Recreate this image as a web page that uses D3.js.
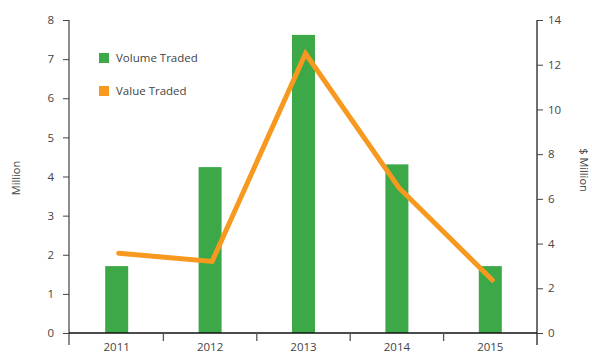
<!DOCTYPE html>
<html><head><meta charset="utf-8">
<script src="https://cdn.jsdelivr.net/npm/d3@7"></script>
<style>
body{margin:0;background:#fff;}
text{font-family:"Open Sans",sans-serif;font-size:11px;fill:#444;}
</style></head><body>
<svg id="c" width="592" height="353"></svg>
<script>
const years = ["2011","2012","2013","2014","2015"];
const volume = [1.71, 4.24, 7.62, 4.31, 1.71];
const value = [3.57, 3.2, 12.5, 6.5, 2.37];
const leftTicks = [0,1,2,3,4,5,6,7,8];
const rightTicks = [0,2,4,6,8,10,12,14];
const seriesNames = ["Volume Traded","Value Traded"];
const colors = ["#3ca848","#f7991f"];

const svg = d3.select("#c");
const L = 70, R = 537, T = 20, B = 333;
const x = d3.scaleBand().domain(years).range([L, R]);
const yL = d3.scaleLinear().domain([0, 8]).range([B, T]);
const yR = d3.scaleLinear().domain([0, 14]).range([B, T]);

// bars
svg.selectAll("rect.bar").data(years).enter().append("rect")
  .attr("x", d => x(d) + x.bandwidth()/2 - 11.5)
  .attr("width", 23)
  .attr("y", (d,i) => yL(volume[i]))
  .attr("height", (d,i) => B - yL(volume[i]))
  .attr("fill", colors[0]);

// line
const line = d3.line().x((d,i) => x(years[i]) + x.bandwidth()/2 + 2).y(d => yR(d));
svg.append("path").datum(value).attr("d", line)
  .attr("fill","none").attr("stroke", colors[1]).attr("stroke-width", 5)
  .attr("stroke-linecap","round").attr("stroke-linejoin","miter");

// left axis
const gl = svg.append("g").attr("transform", `translate(${L-1},0)`)
  .call(d3.axisLeft(yL).tickValues(leftTicks).tickSize(6).tickPadding(9));
gl.select(".domain").attr("d", `M0,${T}V345`).attr("stroke","#666").attr("stroke-width",1.5);
gl.selectAll(".tick line").attr("stroke","#444");
gl.selectAll(".tick text").style("font-size","11.5px");

// right axis
const gr = svg.append("g").attr("transform", `translate(${R},0)`)
  .call(d3.axisRight(yR).tickValues(rightTicks).tickSize(6).tickPadding(5));
gr.select(".domain").attr("d", `M0,${T}V345`).attr("stroke","#222").attr("stroke-width",1.3);
gr.selectAll(".tick line").attr("stroke","#444");
gr.selectAll(".tick text").style("font-size","11.5px");

// bottom axis
svg.append("line").attr("x1", L-1).attr("x2", R).attr("y1", B).attr("y2", B)
  .attr("stroke","#111").attr("stroke-width",1.3);
const bounds = years.map(d => x(d)).concat([R]);
svg.selectAll("line.bt").data(bounds.slice(1, -1)).enter().append("line")
  .attr("x1", d => d).attr("x2", d => d).attr("y1", B).attr("y2", B + 8)
  .attr("stroke","#555").attr("stroke-width",1.3);
svg.selectAll("text.xl").data(years).enter().append("text")
  .attr("x", d => x(d) + x.bandwidth()/2).attr("y", 351)
  .attr("text-anchor","middle").style("font-size","11.5px").text(d => d);

// axis titles
svg.append("text").attr("transform","translate(20,178) rotate(-90)")
  .attr("text-anchor","middle").text("Million");
svg.append("text").attr("transform","translate(580,170) rotate(90)")
  .attr("text-anchor","middle").text("$ Million");

// legend
seriesNames.forEach((n, i) => {
  const yy = 53 + i * 33;
  svg.append("rect").attr("x", 99).attr("y", yy).attr("width", 10).attr("height", 10).attr("fill", colors[i]);
  svg.append("text").attr("x", 116).attr("y", yy + 9).style("font-size","11.5px").text(n);
});
</script>
</body></html>
